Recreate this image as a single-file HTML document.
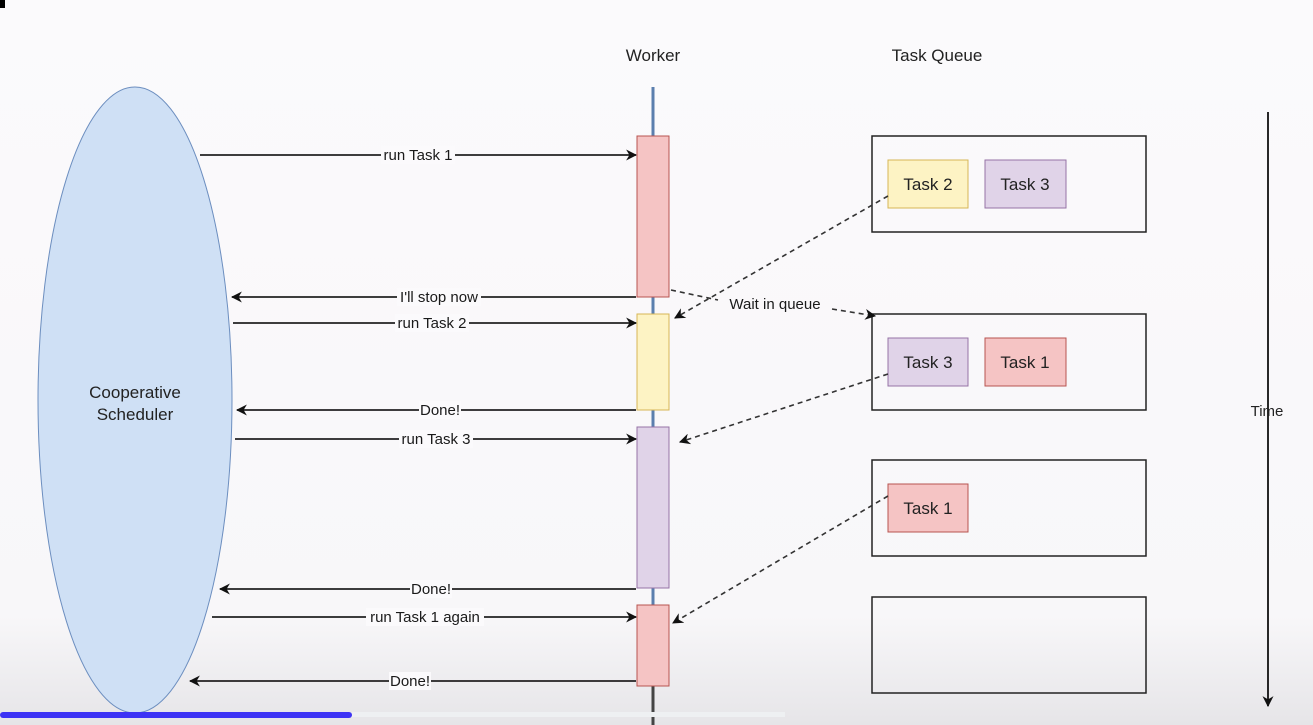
<!DOCTYPE html>
<html><head><meta charset="utf-8"><style>
html,body{margin:0;padding:0;width:1313px;height:725px;overflow:hidden;background:#fbfafc;}
svg{display:block;font-family:"Liberation Sans",sans-serif;}
</style></head><body>
<svg width="1313" height="725" viewBox="0 0 1313 725" xmlns="http://www.w3.org/2000/svg">
<defs>
<linearGradient id="bg" x1="0" y1="0" x2="0" y2="1">
<stop offset="0" stop-color="#fbfafc"/><stop offset="0.85" stop-color="#f8f7f9"/><stop offset="1" stop-color="#e6e5e8"/>
</linearGradient>
<marker id="a" viewBox="0 0 10 10" refX="9" refY="5" markerWidth="11" markerHeight="11" markerUnits="userSpaceOnUse" orient="auto">
<path d="M0,0 L10,5 L0,10 L3,5 Z" fill="#111"/></marker>
</defs>
<rect width="1313" height="725" fill="url(#bg)"/>
<rect x="0" y="0" width="5" height="8" fill="#000"/>

<ellipse cx="135" cy="400" rx="97" ry="313" fill="#cfe0f5" stroke="#6c8ebf" stroke-width="1"/>
<text x="135" y="398" font-size="17" fill="#222" text-anchor="middle">Cooperative</text>
<text x="135" y="420" font-size="17" fill="#222" text-anchor="middle">Scheduler</text>

<text x="653" y="61" font-size="17" fill="#222" text-anchor="middle">Worker</text>
<text x="937" y="61" font-size="17" fill="#222" text-anchor="middle">Task Queue</text>

<line x1="653" y1="87" x2="653" y2="605" stroke="#5b7fae" stroke-width="3"/>
<line x1="653" y1="686" x2="653" y2="725" stroke="#444" stroke-width="3"/>
<rect x="637" y="136" width="32" height="161" fill="#f5c4c4" stroke="#b85450"/>
<rect x="637" y="314" width="32" height="96" fill="#fdf3c4" stroke="#d6b656"/>
<rect x="637" y="427" width="32" height="161" fill="#e0d3e8" stroke="#9673a6"/>
<rect x="637" y="605" width="32" height="81" fill="#f5c4c4" stroke="#b85450"/>

<g stroke="#222" stroke-width="1.8" fill="none" marker-end="url(#a)">
<line x1="200" y1="155" x2="636" y2="155"/>
<line x1="636" y1="297" x2="232" y2="297"/>
<line x1="233" y1="323" x2="636" y2="323"/>
<line x1="636" y1="410" x2="237" y2="410"/>
<line x1="235" y1="439" x2="636" y2="439"/>
<line x1="636" y1="589" x2="220" y2="589"/>
<line x1="212" y1="617" x2="636" y2="617"/>
<line x1="636" y1="681" x2="190" y2="681"/>
</g>
<g font-size="15" fill="#1a1a1a" text-anchor="middle">
<rect x="381" y="146" width="74" height="18" fill="#fbfafc"/><text x="418" y="160">run Task 1</text>
<rect x="397" y="288" width="84" height="18" fill="#fbfafc"/><text x="439" y="302">I'll stop now</text>
<rect x="395" y="314" width="74" height="18" fill="#fbfafc"/><text x="432" y="328">run Task 2</text>
<rect x="419" y="401" width="42" height="18" fill="#fbfafc"/><text x="440" y="415">Done!</text>
<rect x="399" y="430" width="74" height="18" fill="#fbfafc"/><text x="436" y="444">run Task 3</text>
<rect x="410" y="580" width="42" height="18" fill="#fbfafc"/><text x="431" y="594">Done!</text>
<rect x="366" y="608" width="118" height="18" fill="#fbfafc"/><text x="425" y="622">run Task 1 again</text>
<rect x="389" y="672" width="42" height="18" fill="#fbfafc"/><text x="410" y="686">Done!</text>
</g>

<g fill="none" stroke="#222" stroke-width="1.5">
<rect x="872" y="136" width="274" height="96"/>
<rect x="872" y="314" width="274" height="96"/>
<rect x="872" y="460" width="274" height="96"/>
<rect x="872" y="597" width="274" height="96"/>
</g>
<rect x="888" y="160" width="80" height="48" fill="#fdf3c4" stroke="#d6b656"/>
<rect x="985" y="160" width="81" height="48" fill="#e0d3e8" stroke="#9673a6"/>
<rect x="888" y="338" width="80" height="48" fill="#e0d3e8" stroke="#9673a6"/>
<rect x="985" y="338" width="81" height="48" fill="#f5c4c4" stroke="#b85450"/>
<rect x="888" y="484" width="80" height="48" fill="#f5c4c4" stroke="#b85450"/>
<g font-size="17" fill="#222" text-anchor="middle">
<text x="928" y="190">Task 2</text><text x="1025" y="190">Task 3</text>
<text x="928" y="368">Task 3</text><text x="1025" y="368">Task 1</text>
<text x="928" y="514">Task 1</text>
</g>

<g stroke="#333" stroke-width="1.6" stroke-dasharray="5,4" fill="none" marker-end="url(#a)">
<line x1="888" y1="196" x2="675" y2="318"/>
<path d="M671 290 L718 300 M832 309 L875 316"/>
<line x1="888" y1="374" x2="680" y2="442"/>
<line x1="888" y1="496" x2="673" y2="623"/>
</g>
<text x="775" y="309" font-size="15" fill="#1a1a1a" text-anchor="middle">Wait in queue</text>

<line x1="1268" y1="112" x2="1268" y2="706" stroke="#111" stroke-width="1.8" marker-end="url(#a)"/>
<text x="1267" y="416" font-size="15" fill="#222" text-anchor="middle">Time</text>

<rect x="352" y="712" width="433" height="5" fill="#eef0f2"/>
<rect x="0" y="712" width="352" height="6" rx="3" fill="#3d33f5"/>
</svg>
</body></html>
